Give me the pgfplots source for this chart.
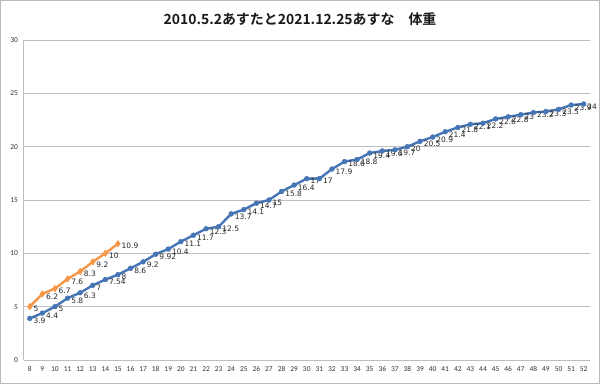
\documentclass[border=0pt]{standalone}
\usepackage{pgfplots}
\pgfplotsset{compat=1.18}
\usepackage{fontspec}
\setmainfont{Carlito}
\newfontfamily\cjkb{Noto Sans CJK JP Bold}
\newfontfamily\lab{DejaVu Sans}
\definecolor{blueS}{HTML}{4675B5}
\definecolor{orangeS}{HTML}{F79646}
\definecolor{gridc}{HTML}{BEBEBE}
\begin{document}
\begin{tikzpicture}[x=1bp,y=1bp]
\draw[gray!55, line width=1bp] (0.5,0.5) rectangle (599.5,383.5);
\node[font=\cjkb\fontsize{14}{16}\selectfont, text=black!90] at (300,365) {2010.5.2あすたと2021.12.25あすな　体重};
\begin{axis}[
  at={(23.5bp,24bp)}, anchor=south west,
  scale only axis, width=566.5bp, height=320bp,
  xmin=7.5, xmax=52.5, ymin=0, ymax=30,
  xtick={8,...,52}, ytick={0,5,...,30},
  ymajorgrids, grid style={gridc, line width=0.8bp},
  axis x line*=bottom, axis y line*=left,
  axis line style={draw=gridc, line width=0.8bp, -},
  major tick length=0pt,
  /pgf/number format/assume math mode=true,
  tick label style={font=\fontsize{7.5}{9}\selectfont, text=black!80},
  xticklabel style={yshift=-3bp},
  yticklabel style={xshift=-2bp},
  nodes near coords,
  every node near coord/.append style={anchor=west, font=\lab\fontsize{7.5}{8}\selectfont, text=black!85, inner sep=1pt, xshift=2.5bp, yshift=-2.5bp},
  clip=false,
]
\addplot[blueS, line width=2.4bp, mark=*, mark size=2.4bp, mark options={fill=blueS, draw=blueS, line width=0.5bp}] coordinates {
(8,3.9) (9,4.4) (10,5) (11,5.8) (12,6.3) (13,7) (14,7.54) (15,8) (16,8.6) (17,9.2)
(18,9.92) (19,10.4) (20,11.1) (21,11.7) (22,12.3) (23,12.5) (24,13.7) (25,14.1) (26,14.7) (27,15)
(28,15.8) (29,16.4) (30,17) (31,17) (32,17.9) (33,18.6) (34,18.8) (35,19.4) (36,19.6) (37,19.7)
(38,20) (39,20.5) (40,20.9) (41,21.4) (42,21.8) (43,22.1) (44,22.2) (45,22.6) (46,22.8) (47,23)
(48,23.2) (49,23.3) (50,23.5) (51,23.9) (52,24)
};
\addplot[orangeS, line width=2.4bp, mark=diamond*, mark size=3.2bp, mark options={fill=orangeS, draw=orangeS, line width=0.5bp}] coordinates {
(8,5) (9,6.2) (10,6.7) (11,7.6) (12,8.3) (13,9.2) (14,10) (15,10.9)
};
\end{axis}
\end{tikzpicture}
\end{document}
